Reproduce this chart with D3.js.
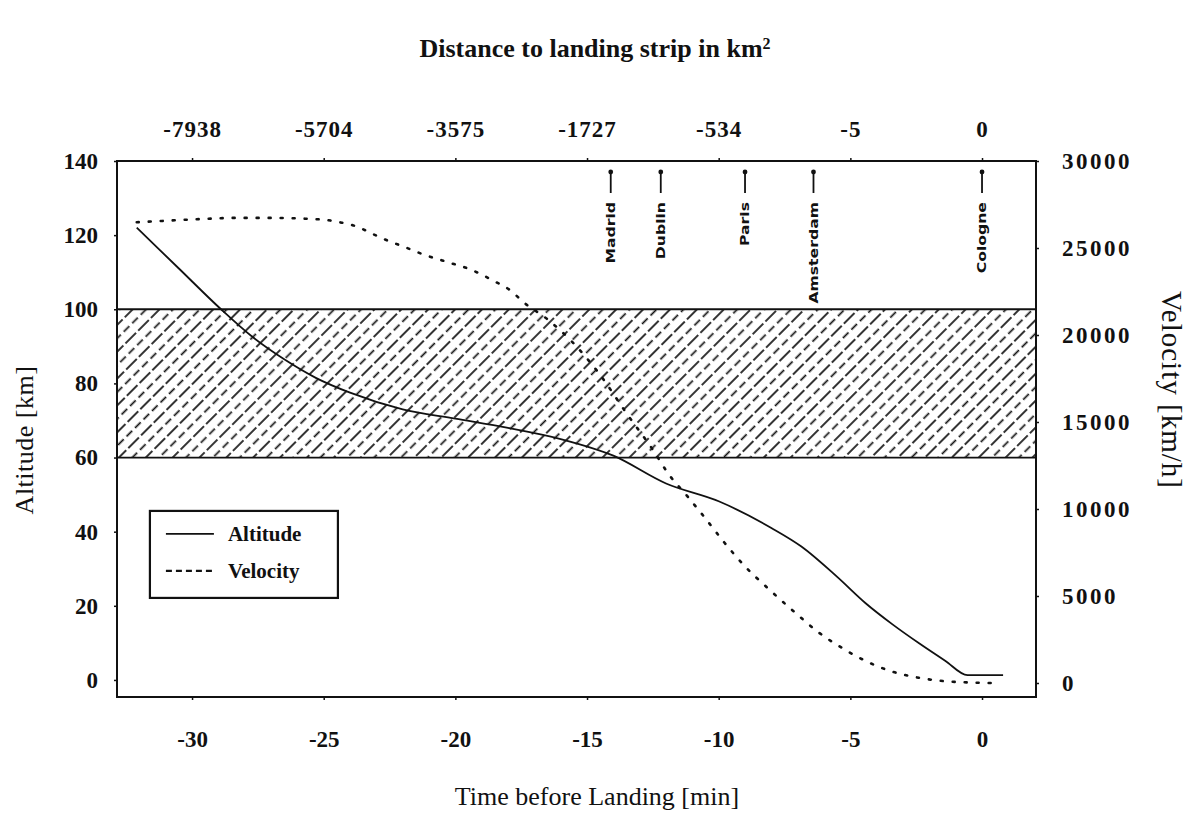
<!DOCTYPE html>
<html>
<head>
<meta charset="utf-8">
<script src="https://cdn.jsdelivr.net/npm/d3@7"></script>
<style>
  body { margin: 0; background: #fff; }
  svg text { font-family: "Liberation Serif", "Times New Roman", serif; fill: #111; }
</style>
</head>
<body>
<div id="chart"></div>
<script>
// bottom axis: minutes before landing, top axis: distance labels at the same ticks
var timeTicks = [-30, -25, -20, -15, -10, -5, 0];
var distLabels = ["-7938", "-5704", "-3575", "-1727", "-534", "-5", "0"];
var altTicks = [0, 20, 40, 60, 80, 100, 120, 140];
var velTicks = [0, 5000, 10000, 15000, 20000, 25000, 30000];

// cities passed on the way in
var cityNames = ["Madrid", "Dublin", "Paris", "Amsterdam", "Cologne"];
var cityTimes = [-14.1, -12.2, -9.0, -6.4, 0];

// altitude curve (solid)
var altTime = [-32.1, -30.5, -28.9, -27.7, -26.5, -25.3, -24, -22, -20, -18, -16, -14, -12, -10, -8, -6.86, -5.5, -4.42, -3.4, -2.39, -1.4, -0.55, 0.8];
var altKm   = [122, 111, 100, 92.5, 86.5, 81.5, 77.5, 73, 70.5, 68, 65, 60.5, 53, 48.2, 41, 36, 27.8, 20.7, 15, 9.9, 5.2, 1.3, 1.3];

// velocity curve (dotted)
var velTime = [-32.1, -30.8, -29.6, -28.3, -27.0, -25.8, -24.9, -24.4, -23.9, -23.4, -23.0, -22.5, -22.0, -21.2, -20.3, -19.4, -18.6, -17.9, -17.4, -16.5, -15.5, -14.5, -13.5, -12.5, -11.9, -11.2, -10.5, -9.8, -9.0, -8.1, -7.1, -6.2, -5.3, -4.4, -3.5, -2.4, -1.4, -0.5, 0.4];
var velKmh  = [26480, 26580, 26670, 26730, 26730, 26690, 26610, 26480, 26310, 26000, 25710, 25380, 25100, 24620, 24190, 23750, 23150, 22550, 21870, 20900, 19500, 17700, 15500, 13400, 12000, 10750, 9450, 8100, 6700, 5400, 4050, 2900, 2000, 1250, 700, 300, 100, 30, 0];

// shaded band (km)
var bandKm = [60, 100];
var seriesNames = ["Altitude", "Velocity"];

var width = 1193, height = 826;
var margin = {top: 161, right: 157, bottom: 129, left: 117};
var w = width - margin.left - margin.right,
    h = height - margin.top - margin.bottom;

var svg = d3.select("#chart").append("svg")
    .attr("width", width)
    .attr("height", height);

var defs = svg.append("defs");
var pat = defs.append("pattern")
    .attr("id", "hatch")
    .attr("patternUnits", "userSpaceOnUse")
    .attr("width", 19).attr("height", 36)
    .attr("patternTransform", "rotate(45)");
pat.append("line").attr("x1", 2).attr("y1", 0).attr("x2", 2).attr("y2", 36)
    .attr("stroke", "#111").attr("stroke-width", 1.7).attr("stroke-dasharray", "15,3");
pat.append("line").attr("x1", 11.5).attr("y1", 0).attr("x2", 11.5).attr("y2", 36)
    .attr("stroke", "#111").attr("stroke-width", 1.7).attr("stroke-dasharray", "8,4");

defs.append("clipPath").attr("id", "plotclip")
  .append("rect").attr("width", w).attr("height", h);

var g = svg.append("g")
    .attr("transform", "translate(" + margin.left + "," + margin.top + ")");

var x = d3.scaleLinear().domain([-32.85, 2.05]).range([0, w]);
var yAlt = d3.scaleLinear().domain([-4.6, 140]).range([h, 0]);
var yVel = d3.scaleLinear().domain([-805, 30000]).range([h, 0]);

// hatched band
g.append("rect")
    .attr("x", 0).attr("width", w)
    .attr("y", yAlt(bandKm[1]))
    .attr("height", yAlt(bandKm[0]) - yAlt(bandKm[1]))
    .attr("fill", "url(#hatch)");
g.selectAll(".bandline").data(bandKm).enter().append("line")
    .attr("x1", 0).attr("x2", w)
    .attr("y1", function(d) { return yAlt(d); })
    .attr("y2", function(d) { return yAlt(d); })
    .attr("stroke", "#111").attr("stroke-width", 1.8);

// axes
function plain(d) { return String(d); }
function styleAxis(sel) {
  sel.select(".domain").remove();
  sel.selectAll(".tick line").attr("stroke", "#111").attr("stroke-width", 1.5);
  sel.selectAll(".tick text")
      .attr("font-weight", "bold")
      .attr("font-size", 23)
      .attr("fill", "#111");
}

g.append("g")
    .attr("transform", "translate(0," + h + ")")
    .call(d3.axisBottom(x).tickValues(timeTicks).tickSize(3).tickPadding(31).tickFormat(plain))
    .call(styleAxis);

g.append("g")
    .call(d3.axisTop(x).tickValues(timeTicks).tickSize(3).tickPadding(21)
      .tickFormat(function(d, i) { return distLabels[i]; }))
    .call(styleAxis)
    .selectAll(".tick text").attr("letter-spacing", 1);

g.append("g")
    .call(d3.axisLeft(yAlt).tickValues(altTicks).tickSize(3).tickPadding(16).tickFormat(plain))
    .call(styleAxis);

g.append("g")
    .attr("transform", "translate(" + w + ",0)")
    .call(d3.axisRight(yVel).tickValues(velTicks).tickSize(3).tickPadding(23).tickFormat(plain))
    .call(styleAxis)
    .selectAll(".tick text").attr("letter-spacing", 2.5);

// frame
g.append("rect")
    .attr("width", w).attr("height", h)
    .attr("fill", "none").attr("stroke", "#111").attr("stroke-width", 2);

// curves
var plot = g.append("g").attr("clip-path", "url(#plotclip)");

var altLine = d3.line()
    .x(function(d, i) { return x(altTime[i]); })
    .y(function(d) { return yAlt(d); })
    .curve(d3.curveMonotoneX);
var velLine = d3.line()
    .x(function(d, i) { return x(velTime[i]); })
    .y(function(d) { return yVel(d); })
    .curve(d3.curveMonotoneX);

plot.append("path").datum(altKm)
    .attr("d", altLine)
    .attr("fill", "none").attr("stroke", "#111").attr("stroke-width", 1.8);

plot.append("path").datum(velKmh)
    .attr("d", velLine)
    .attr("fill", "none").attr("stroke", "#111").attr("stroke-width", 2.6)
    .attr("stroke-linecap", "round")
    .attr("stroke-dasharray", "2,10");

// city markers
var city = g.selectAll(".city").data(cityNames).enter().append("g")
    .attr("class", "city")
    .attr("transform", function(d, i) { return "translate(" + x(cityTimes[i]) + ",0)"; });
city.append("line")
    .attr("y1", 11).attr("y2", 32)
    .attr("stroke", "#111").attr("stroke-width", 1.8);
city.append("circle")
    .attr("cy", 11).attr("r", 2.4).attr("fill", "#111");
city.append("text")
    .attr("transform", "translate(0,41) rotate(-90) scale(1.45,1)")
    .attr("text-anchor", "end")
    .attr("dy", "0.36em")
    .style("font-family", "'DejaVu Sans Condensed', 'DejaVu Sans', sans-serif")
    .attr("font-weight", "bold")
    .attr("font-size", 12)
    .text(function(d) { return d; });

// legend
var leg = g.append("g").attr("transform", "translate(" + x(-31.6) + "," + yAlt(45.6) + ")");
leg.append("rect")
    .attr("width", 188).attr("height", 87)
    .attr("fill", "#fff").attr("stroke", "#111").attr("stroke-width", 2.2);
var item = leg.selectAll(".item").data(seriesNames).enter().append("g")
    .attr("transform", function(d, i) { return "translate(0," + (23 + i * 37) + ")"; });
item.append("line")
    .attr("x1", 16).attr("x2", 64)
    .attr("stroke", "#111")
    .attr("stroke-width", function(d, i) { return i === 0 ? 1.8 : 2.2; })
    .attr("stroke-dasharray", function(d, i) { return i === 0 ? null : "6,4"; });
item.append("text")
    .attr("x", 78).attr("dy", "0.35em")
    .attr("font-weight", "bold").attr("font-size", 21)
    .text(function(d) { return d; });

// titles
svg.append("text")
    .attr("x", 595).attr("y", 57)
    .attr("text-anchor", "middle")
    .attr("font-weight", "bold").attr("font-size", 26)
    .text("Distance to landing strip in km")
  .append("tspan")
    .attr("baseline-shift", "super").attr("font-size", 16)
    .text("2");

svg.append("text")
    .attr("x", 597).attr("y", 805)
    .attr("text-anchor", "middle")
    .attr("font-size", 26)
    .text("Time before Landing [min]");

svg.append("text")
    .attr("transform", "translate(33,440) rotate(-90)")
    .attr("text-anchor", "middle")
    .attr("font-size", 26).attr("letter-spacing", 0.5)
    .text("Altitude [km]");

svg.append("text")
    .attr("transform", "translate(1162,390) rotate(90)")
    .attr("text-anchor", "middle")
    .attr("font-size", 29).attr("letter-spacing", 1)
    .text("Velocity [km/h]");
</script>
</body>
</html>
